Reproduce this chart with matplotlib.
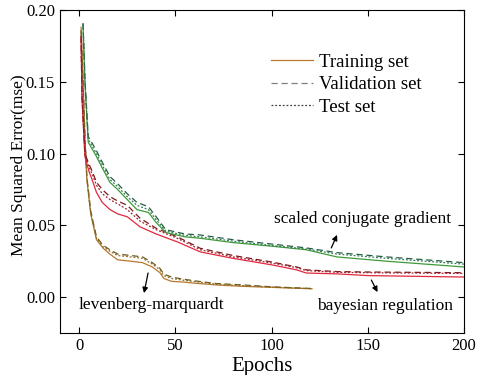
import matplotlib
matplotlib.use("Agg")
import matplotlib.pyplot as plt
from matplotlib.lines import Line2D

plt.rcParams["font.family"] = "Liberation Serif"

# Levenberg-Marquardt
lm_x = [1, 2, 3, 4, 6, 9, 12.5, 16, 20, 27, 33, 38, 42, 44, 48, 54, 62, 71, 85, 100, 121]
lm_train = [0.188, 0.150, 0.110, 0.082, 0.058, 0.040, 0.034, 0.030, 0.026, 0.025, 0.024,
            0.021, 0.017, 0.013, 0.011, 0.0105, 0.0095, 0.0085, 0.0075, 0.0068, 0.0058]
lm_val = [0.186, 0.152, 0.113, 0.084, 0.060, 0.042, 0.036, 0.033, 0.030, 0.029, 0.028,
          0.024, 0.020, 0.016, 0.014, 0.0125, 0.011, 0.0095, 0.0085, 0.0072, 0.006]
lm_test = [0.185, 0.151, 0.112, 0.083, 0.059, 0.041, 0.035, 0.032, 0.029, 0.028, 0.027,
           0.023, 0.019, 0.015, 0.013, 0.0118, 0.0105, 0.009, 0.008, 0.007, 0.0059]

# Bayesian regulation
br_x = [1, 1.5, 3, 5, 6.7, 9, 12, 16, 20, 25, 31.6, 40, 51, 63, 80, 100, 113, 118, 134, 150, 200]
br_train = [0.180, 0.138, 0.098, 0.088, 0.082, 0.073, 0.066, 0.061, 0.058, 0.056, 0.049,
            0.044, 0.0385, 0.0315, 0.027, 0.0225, 0.019, 0.0168, 0.0162, 0.015, 0.014]
br_val = [0.182, 0.140, 0.100, 0.093, 0.088, 0.080, 0.075, 0.070, 0.067, 0.064, 0.055,
          0.048, 0.042, 0.034, 0.029, 0.0245, 0.021, 0.019, 0.0178, 0.0175, 0.017]
br_test = [0.181, 0.139, 0.099, 0.091, 0.086, 0.078, 0.072, 0.068, 0.065, 0.061, 0.053,
           0.047, 0.041, 0.033, 0.028, 0.0238, 0.0205, 0.0185, 0.0173, 0.017, 0.0165]

# Scaled conjugate gradient
scg_x = [2, 2.5, 3, 4.7, 9, 12, 16, 20, 25, 30, 36, 40, 45, 55, 63, 80, 100, 118, 134, 160, 200]
scg_train = [0.190, 0.170, 0.150, 0.108, 0.098, 0.090, 0.080, 0.075, 0.068, 0.061, 0.059,
             0.052, 0.045, 0.042, 0.041, 0.038, 0.0355, 0.033, 0.028, 0.025, 0.021]
scg_val = [0.191, 0.172, 0.152, 0.112, 0.102, 0.094, 0.084, 0.079, 0.072, 0.066, 0.063,
           0.056, 0.047, 0.044, 0.0433, 0.040, 0.037, 0.0343, 0.031, 0.028, 0.024]
scg_test = [0.190, 0.171, 0.151, 0.110, 0.100, 0.092, 0.082, 0.077, 0.070, 0.064, 0.061,
            0.054, 0.046, 0.043, 0.042, 0.039, 0.036, 0.0335, 0.030, 0.027, 0.023]

fig = plt.figure(figsize=(4.87, 3.75), dpi=100)
ax = fig.add_axes([0.123, 0.112, 0.830, 0.861])

lw = 0.9
# (x, train, val, test, train colour, val colour, test colour)
groups = [
    (lm_x, lm_train, lm_val, lm_test, "#b8792e", "#6b5a1e", "#8c6d2c"),
    (br_x, br_train, br_val, br_test, "#e2283e", "#7a1a1a", "#a02030"),
    (scg_x, scg_train, scg_val, scg_test, "#3f9a3a", "#255f45", "#357a55"),
]
for x, tr, va, te, c1, c2, c3 in groups:
    ax.plot(x, tr, color=c1, lw=lw)
    ax.plot(x, va, color=c2, lw=lw, dashes=(5, 3))
    ax.plot(x, te, color=c3, lw=lw, dashes=(1.5, 1.5))

ax.set_xlim(-10, 200)
ax.set_ylim(-0.025, 0.20)
ax.set_xticks([0, 50, 100, 150, 200])
ax.set_yticks([0.00, 0.05, 0.10, 0.15, 0.20])
ax.set_yticklabels(["0.00", "0.05", "0.10", "0.15", "0.20"])
ax.tick_params(direction="in", top=True, right=True, labelsize=12, length=4)
ax.set_xlabel("Epochs", fontsize=15, labelpad=2)
ax.set_ylabel("Mean Squared Error(mse)", fontsize=12.5)
ax.yaxis.set_label_coords(-0.082, 0.52)

handles = [
    Line2D([], [], color="#b8792e", lw=lw),
    Line2D([], [], color="#808080", lw=lw, dashes=(5, 3)),
    Line2D([], [], color="#404040", lw=lw, dashes=(1.5, 1.5)),
]
ax.legend(handles, ["Training set", "Validation set", "Test set"], loc="upper left",
          bbox_to_anchor=(0.50, 0.895), frameon=False, fontsize=13.5, handlelength=2.2,
          handletextpad=0.35, labelspacing=0.3, borderpad=0)

arrow = dict(arrowstyle="-|>", color="black", lw=0.9, mutation_scale=8,
             shrinkA=0, shrinkB=0)
ax.annotate("", xy=(33.7, 0.0028), xytext=(35.8, 0.0168), arrowprops=arrow)
ax.text(37.8, -0.0056, "levenberg-marquardt", ha="center", va="center", fontsize=12.5)
ax.annotate("", xy=(155, 0.0035), xytext=(151.8, 0.0119), arrowprops=arrow)
ax.text(159, -0.0063, "bayesian regulation", ha="center", va="center", fontsize=12.5)
ax.annotate("", xy=(134, 0.0434), xytext=(131, 0.0343), arrowprops=arrow)
ax.text(147, 0.0545, "scaled conjugate gradient", ha="center", va="center", fontsize=12.5)

fig.savefig("out.png", dpi=100)
